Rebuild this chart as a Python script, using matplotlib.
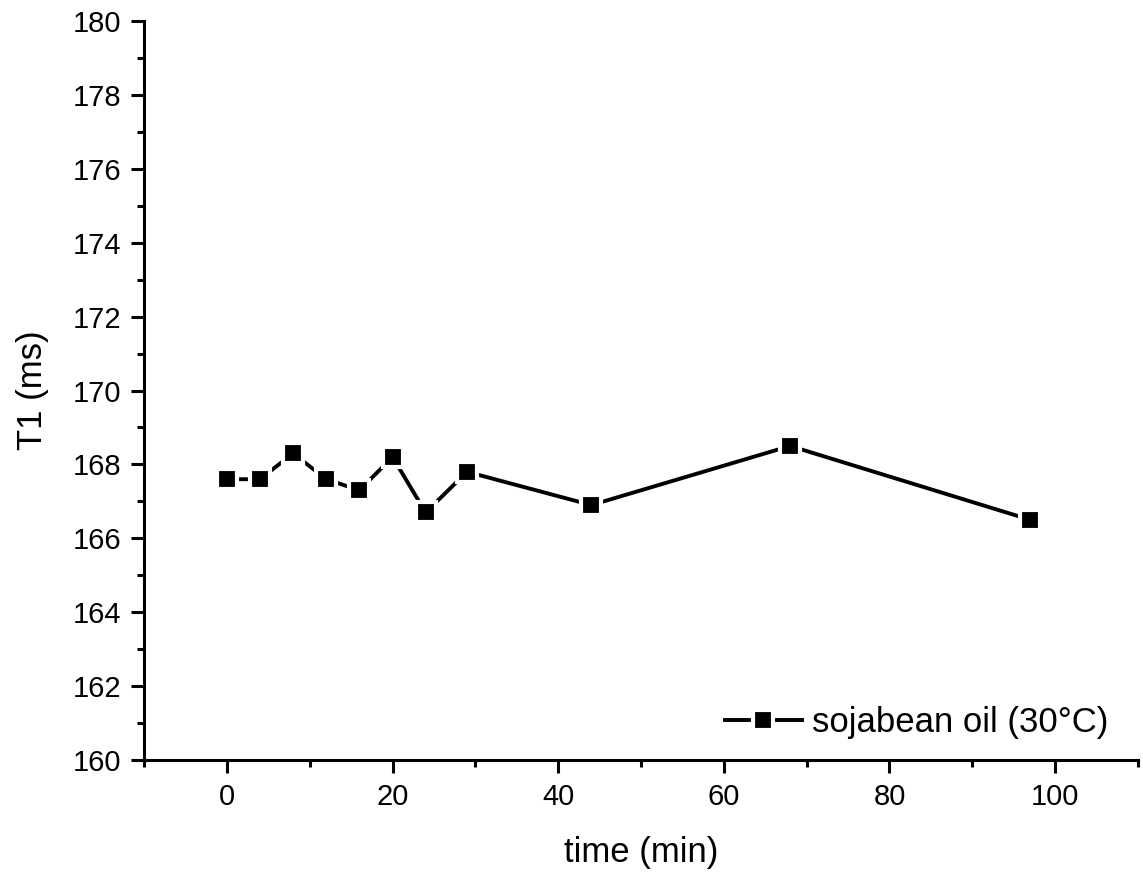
import matplotlib
matplotlib.use('Agg')
import matplotlib.pyplot as plt
from matplotlib.ticker import MultipleLocator

plt.rcParams['font.family'] = ['Liberation Sans', 'DejaVu Sans']

# ----------
# Data
#
time_min = [0, 4, 8, 12, 16, 20, 24, 29, 44, 68, 97]
t1_ms = [167.6, 167.6, 168.3, 167.6, 167.3, 168.2, 166.7, 167.8, 166.9, 168.5, 166.5]
series_label = 'sojabean oil (30\u00b0C)'

fig = plt.figure(figsize=(11.43, 8.72), dpi=100, facecolor='white')
ax = fig.add_axes([0.126, 0.1284, 0.8696, 0.8475])

# white marker edge gives the small gap between line and square, like Origin
ax.plot(time_min, t1_ms, color='black', linewidth=2.8, marker='s',
        markersize=14.5, markerfacecolor='black', markeredgecolor='white',
        markeredgewidth=3, label=series_label)

ax.set_xlim(-10, 110)
ax.set_ylim(160, 180)
ax.xaxis.set_major_locator(MultipleLocator(20))
ax.xaxis.set_minor_locator(MultipleLocator(10))
ax.yaxis.set_major_locator(MultipleLocator(2))
ax.yaxis.set_minor_locator(MultipleLocator(1))

for side in ['top', 'right']:
    ax.spines[side].set_visible(False)
for side in ['left', 'bottom']:
    ax.spines[side].set_linewidth(2.2)

ax.tick_params(which='major', direction='out', length=9.5, width=2.2,
               labelsize=21, pad=7)
ax.tick_params(which='minor', direction='out', length=5, width=2.2)

ax.set_xlabel('time (min)', fontsize=25, labelpad=18)
ax.set_ylabel('T1 (ms)', fontsize=25, labelpad=17)

leg = ax.legend(loc='lower right', frameon=False, fontsize=25,
                handlelength=2.2, handletextpad=0.3, borderaxespad=0,
                bbox_to_anchor=(0.9843, 0.0095))

fig.savefig('out.png', dpi=100, facecolor='white')
